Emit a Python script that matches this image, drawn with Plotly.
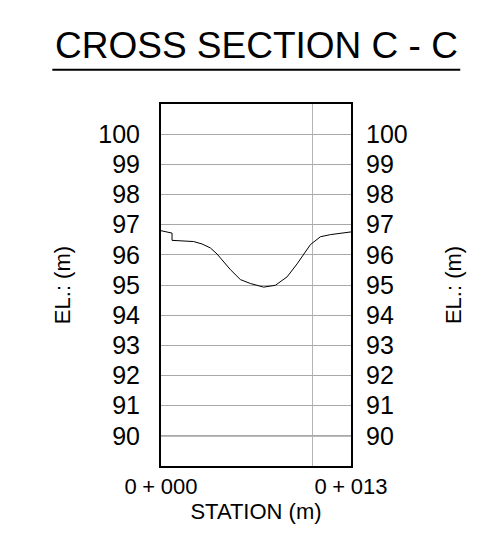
import plotly.graph_objects as go

# --- data ---
stations = [0, 0.95, 0.95, 1.95, 2.81, 3.53, 4.24, 4.82, 5.97, 6.83, 7.69, 8.83,
            9.84, 10.85, 11.71, 12.86, 13.72, 14.58, 16.35]
elevations = [96.80, 96.72, 96.48, 96.47, 96.44, 96.36, 96.23, 96.03, 95.51, 95.18,
              95.05, 94.93, 94.99, 95.27, 95.70, 96.34, 96.60, 96.67, 96.76]
elev_ticks = [90, 91, 92, 93, 94, 95, 96, 97, 98, 99, 100]
station_ticks = [0, 16.35]
station_labels = ["0\u2005+\u2005000", "0\u2005+\u2005013"]
station_grid = [13]
datum = 90

FONT = "Liberation Sans, Arial, sans-serif"

fig = go.Figure()
fig.add_trace(go.Scatter(x=stations, y=elevations, mode="lines",
                         line=dict(color="black", width=1), showlegend=False,
                         hoverinfo="skip"))
fig.add_trace(go.Scatter(x=stations, y=elevations, mode="lines", yaxis="y2",
                         line=dict(color="rgba(0,0,0,0)", width=0), showlegend=False,
                         hoverinfo="skip"))

fig.update_layout(
    width=478, height=527,
    margin=dict(l=153, r=135, t=96, b=69),
    paper_bgcolor="white", plot_bgcolor="white",
    font=dict(family=FONT, color="black"),
    xaxis=dict(range=[0, 16.35], tickvals=station_ticks, ticktext=station_labels,
               showgrid=False, zeroline=False, ticks="",
               showline=True, mirror=True, linecolor="black", linewidth=2,
               tickfont=dict(size=22, family=FONT),
               minor=dict(tickvals=station_grid, showgrid=True, gridcolor="#b4b4b4",
                          gridwidth=1, ticks=""),
               title=dict(text="STATION (m)", font=dict(size=22, family=FONT), standoff=4)),
    yaxis=dict(range=[89, 101], tickvals=elev_ticks, showgrid=True, gridcolor="#a8a8a8",
               gridwidth=1, zeroline=False, ticks="", ticklabelstandoff=14,
               showline=True, mirror=True, linecolor="black", linewidth=2,
               tickfont=dict(size=25, family=FONT),
               title=dict(text="EL.: (m)", font=dict(size=22, family=FONT), standoff=22)),
    yaxis2=dict(range=[89, 101], tickvals=elev_ticks, overlaying="y", side="right",
                showgrid=False, zeroline=False, ticks="", ticklabelstandoff=14,
                showline=False, tickfont=dict(size=25, family=FONT),
                title=dict(text="EL.: (m)", font=dict(size=22, family=FONT), standoff=38)),
    annotations=[dict(text="CROSS SECTION C - C", xref="paper", yref="paper",
                      x=0.5, y=1.1, xanchor="center", yanchor="bottom", showarrow=False,
                      font=dict(size=37, family=FONT, color="black"))],
    shapes=[
        dict(type="line", xref="paper", yref="paper", x0=-0.572, x1=1.575,
             y0=1.0946, y1=1.0946, line=dict(color="black", width=2)),
        dict(type="line", xref="paper", yref="y", x0=0, x1=1, y0=datum, y1=datum,
             line=dict(color="#333333", width=1), layer="below"),
    ],
)

fig.write_html("out.html")
